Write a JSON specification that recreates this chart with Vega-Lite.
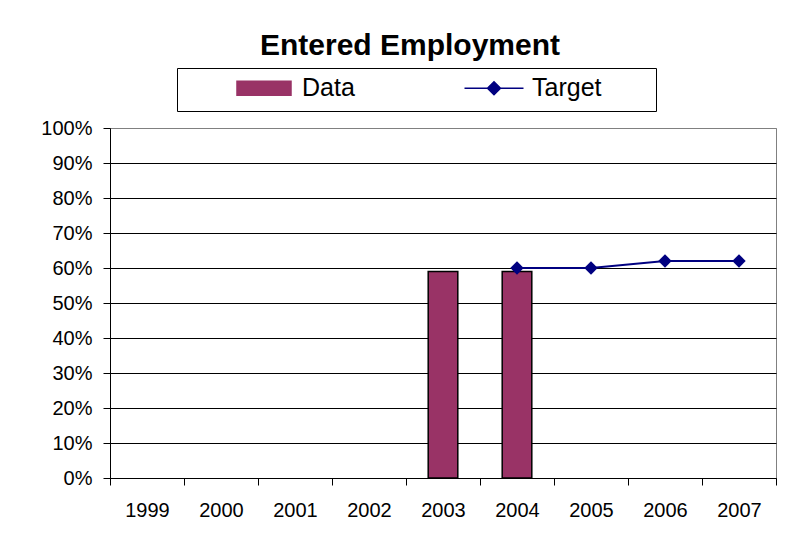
{
  "$schema": "https://vega.github.io/schema/vega-lite/v6.json",
  "width": 666,
  "height": 350,
  "autosize": {"type": "none"},
  "padding": {"left": 110, "top": 128, "right": 14, "bottom": 76},
  "background": "white",
  "title": {
    "text": "Entered Employment",
    "font": "Liberation Sans",
    "fontSize": 30,
    "fontWeight": "bold",
    "color": "black",
    "anchor": "middle",
    "dx": -33,
    "offset": 7
  },
  "config": {
    "view": {"stroke": "#808080", "strokeWidth": 1},
    "font": "Liberation Sans"
  },
  "data": {
    "values": [
      {"year": "2003", "series": "Data", "value": 0.59},
      {"year": "2004", "series": "Data", "value": 0.59},
      {"year": "2004", "series": "Target", "value": 0.60},
      {"year": "2005", "series": "Target", "value": 0.60},
      {"year": "2006", "series": "Target", "value": 0.62},
      {"year": "2007", "series": "Target", "value": 0.62}
    ]
  },
  "encoding": {
    "x": {
      "field": "year",
      "type": "ordinal",
      "scale": {
        "domain": ["1999", "2000", "2001", "2002", "2003", "2004", "2005", "2006", "2007"],
        "paddingInner": 0,
        "paddingOuter": 0
      },
      "axis": {
        "title": null,
        "labelAngle": 0,
        "labelFont": "Liberation Sans",
        "labelFontSize": 20,
        "labelColor": "black",
        "domainColor": "black",
        "tickColor": "black",
        "tickSize": 7,
        "tickBand": "extent",
        "labelPadding": 15,
        "grid": false
      }
    },
    "y": {
      "field": "value",
      "type": "quantitative",
      "scale": {"domain": [0, 1], "nice": false},
      "axis": {
        "title": null,
        "format": "%",
        "values": [0, 0.1, 0.2, 0.3, 0.4, 0.5, 0.6, 0.7, 0.8, 0.9, 1],
        "labelFont": "Liberation Sans",
        "labelFontSize": 20,
        "labelColor": "black",
        "domainColor": "black",
        "tickColor": "black",
        "tickSize": 7,
        "labelPadding": 11,
        "grid": true,
        "gridColor": {"condition": {"test": "datum.value === 1", "value": "#808080"}, "value": "black"},
        "gridOpacity": 1
      }
    },
    "color": {
      "field": "series",
      "type": "nominal",
      "scale": {"domain": ["Data", "Target"], "range": ["#993366", "#000080"]},
      "legend": {
        "title": null,
        "orient": "none",
        "legendX": 67,
        "legendY": -60,
        "direction": "horizontal",
        "padding": 5,
        "columnPadding": 57,
        "symbolOffset": 67,
        "labelOffset": 23,
        "strokeColor": "black",
        "fillColor": "white",
        "labelFont": "Liberation Sans",
        "labelFontSize": 25,
        "labelColor": "black",
        "symbolSize": 784,
        "symbolStrokeWidth": 1.5,
        "encode": {
          "symbols": {
            "update": {
              "shape": {"signal": "datum.value === 'Data' ? 'M-1.929,-0.5H1.929V0.5H-1.929ZM0,1.04' : 'M-2.107,0H2.107M0,-0.464L0.464,0L0,0.464L-0.464,0ZM0,1.04M11.0,0'"},
              "fill": {"signal": "datum.value === 'Data' ? '#993366' : '#000080'"},
              "stroke": {"signal": "datum.value === 'Data' ? 'black' : '#000080'"},
              "strokeWidth": {"value": 1.5},
              "size": {"value": 784},
              "opacity": {"value": 1}
            }
          }
        }
      }
    }
  },
  "layer": [
    {
      "transform": [{"filter": "datum.series === 'Data'"}],
      "mark": {"type": "bar", "stroke": "black", "strokeWidth": 1.5, "width": {"band": 0.4}}
    },
    {
      "transform": [{"filter": "datum.series === 'Target'"}],
      "mark": {"type": "line", "strokeWidth": 2, "point": {"shape": "diamond", "size": 180, "filled": true}}
    }
  ]
}
